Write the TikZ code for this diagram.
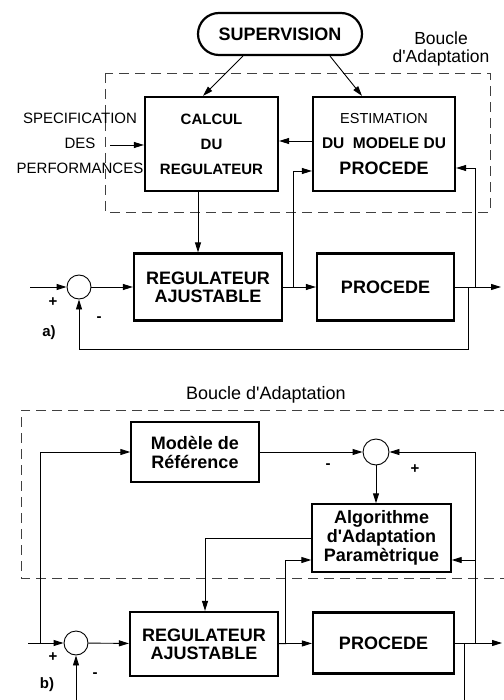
\documentclass[tikz,border=0pt]{standalone}
\usepackage{fontspec}
\setmainfont{Liberation Sans}
\usetikzlibrary{arrows.meta, positioning, calc}
\newcommand{\ap}{\XeTeXglyph\XeTeXcharglyph"0027\relax}

\begin{document}
\begin{tikzpicture}[
    x=1pt, y=-1pt,
    bloc/.style={rectangle, draw, line width=#1, inner sep=0pt, align=center, font=\fontsize{18}{18}\selectfont\bfseries},
    bloc/.default=2.2pt,
    sumnode/.style={circle, draw, line width=0.9pt, minimum size=24pt, inner sep=0pt},
    flow/.style={-{Triangle[length=10pt, width=6pt]}, line width=0.9pt},
    wire/.style={line width=0.9pt},
    sign/.style={font=\fontsize{15}{15}\selectfont\bfseries, inner sep=0pt},
    adapt/.style={dash pattern=on 10pt off 6pt, line width=0.9pt, draw=black!75},
]
    \useasboundingbox (0,0) rectangle (503,700);

    % a) Supervision
    \node[bloc, rounded corners=21pt, minimum width=164pt, minimum height=42pt] (sup) at (280,34) {SUPERVISION};
    \node[font=\fontsize{17.5}{18}\selectfont, align=center, inner sep=0pt] (bouclea) at (441,49) {Boucle\\d\ap Adaptation};
    \draw[adapt] (105,73) rectangle (490,212);

    % Adaptation blocks
    \node[bloc, minimum width=133pt, minimum height=94pt, font=\fontsize{15}{25}\selectfont\bfseries] (calc) at (211.5,144) {CALCUL\\DU\\REGULATEUR};
    \node[bloc, minimum width=142pt, minimum height=94pt, font=\fontsize{15.5}{25.5}\selectfont\bfseries] (estim) at (384,144) {{\mdseries\fontsize{14.5}{25.5}\selectfont ESTIMATION}\\DU\ \ MODELE DU\\{\fontsize{18}{25.5}\selectfont PROCEDE}};
    \node[font=\fontsize{15}{25}\selectfont, align=center, inner sep=0pt] (spec) at (80,143) {SPECIFICATION\\DES\\PERFORMANCES};

    % Loop
    \node[sumnode] (suma) at (79,287) {};
    \node[bloc, minimum width=148pt, minimum height=67pt] (rega) at (208,287) {REGULATEUR\\AJUSTABLE};
    \node[bloc, minimum width=137pt, minimum height=67pt] (proca) at (385.5,287) {PROCEDE};

    \node[sign] (pa) at (53,302) {+};
    \node[sign] (ma) at (99,319) {-};
    \node[sign] (la) at (49,333) {a)};

    \coordinate (specin) at (110,145);
    \coordinate (ina) at (30,287);
    \coordinate (outa) at (501,287);
    \coordinate (ta) at (293,287);
    \coordinate (tb) at (475,287);
    \coordinate (fba) at (468,287);

    % Arrows
    \draw[flow] ([xshift=-37pt]sup.south) -- ([xshift=-8.5pt]calc.north);
    \draw[flow] ([xshift=50pt]sup.south) -- ([xshift=-22pt]estim.north);
    \draw[flow] (specin) -- (calc.west |- specin);
    \draw[flow] ([yshift=3pt]estim.west) -- ([yshift=3pt]calc.east);
    \draw[flow] ([xshift=-13.5pt]calc.south) -- ([xshift=-13.5pt]calc.south |- rega.north);
    \draw[flow] (ina) -- (suma);
    \draw[flow] (suma) -- (rega);
    \draw[flow] (rega) -- (proca);
    \draw[flow] (proca) -- (outa);
    \draw[flow] (ta) |- ([yshift=-27pt]estim.west);
    \draw[flow] (tb) |- ([yshift=-24pt]estim.east);
    \draw[flow] (fba) -- ++(0,62) -| (suma);

    % b) Reference model
    \node[font=\fontsize{18}{18}\selectfont, inner sep=0pt] (boucleb) at (266,395) {Boucle d\ap Adaptation};
    \draw[adapt] (510,410) -- (21,410) -- (21,578) -- (510,578);

    \node[bloc=1.4pt, minimum width=128pt, minimum height=60pt, font=\fontsize{18}{19}\selectfont\bfseries] (modref) at (195,452) {Modèle de\\Référence};
    \node[sumnode, minimum size=26pt] (sumb) at (376,452) {};
    \node[bloc=1.4pt, minimum width=139pt, minimum height=68pt, font=\fontsize{18}{19}\selectfont\bfseries] (algo) at (381.5,538) {Algorithme\\d\ap Adaptation\\Paramètrique};

    \node[sumnode] (sumc) at (76,643) {};
    \node[bloc, minimum width=148pt, minimum height=64pt] (regb) at (204,644) {REGULATEUR\\AJUSTABLE};
    \node[bloc, minimum width=141pt, minimum height=61pt] (procb) at (383.5,643) {PROCEDE};

    \node[sign] (mb) at (328,466) {-};
    \node[sign] (pb) at (415,469) {+};
    \node[sign] (pc) at (53,657) {+};
    \node[sign] (mc) at (95,675) {-};
    \node[sign] (lb) at (47,685) {b)};

    \coordinate (inb) at (28,643);
    \coordinate (outb) at (502,643);
    \coordinate (tc) at (40,643);
    \coordinate (td) at (475,643);
    \coordinate (te) at (285,643);
    \coordinate (fbb) at (76,702);
    \coordinate (fbc) at (464,643);

    \draw[flow] (inb) -- (sumc);
    \draw[flow] (tc) |- (modref.west);
    \draw[flow] (modref) -- (sumb);
    \draw[flow] (td) |- (sumb.east);
    \draw[flow] (sumb) -- (sumb |- algo.north);
    \draw[flow] (algo.west) -| ([xshift=1pt]regb.north);
    \draw[flow] (te) |- ([yshift=-22pt]algo.west);
    \draw[flow] (td) |- ([yshift=-22pt]algo.east);
    \draw[flow] (sumc) -- (regb);
    \draw[flow] (regb) -- (procb);
    \draw[flow] (procb) -- (outb);
    \draw[flow] (fbb) -- (sumc);
    \draw[wire] (fbc) -- ++(0,60);

\end{tikzpicture}
\end{document}
